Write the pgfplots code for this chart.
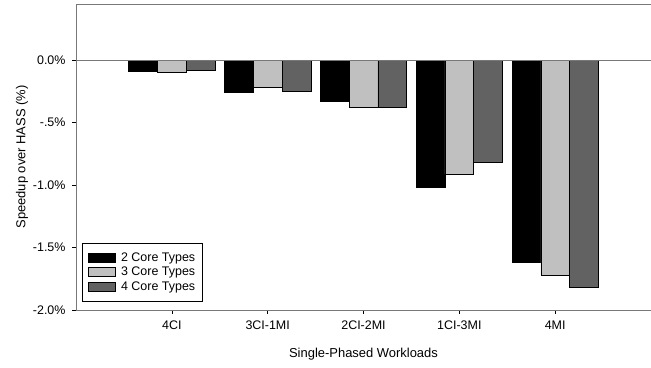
\documentclass[border=0pt]{standalone}
\usepackage{pgfplots}
\pgfplotsset{compat=1.18}
\usepackage{fontspec}
\setmainfont{Liberation Sans}
\definecolor{lgray}{RGB}{192,192,192}
\definecolor{dgray}{RGB}{98,98,98}
\definecolor{axgray}{RGB}{120,120,120}
\begin{document}
\begin{tikzpicture}
\begin{axis}[
  scale only axis,
  width=575bp, height=306bp,
  xmin=-1, xmax=5,
  ymin=-2.0, ymax=0.45,
  axis x line*=bottom,
  axis y line*=left,
  axis line style={axgray, line width=0.8pt},
  tick style={black, line width=0.6pt},
  tick align=outside,
  major tick length=4bp,
  xtick={0,1,2,3,4},
  xticklabels={4CI,3CI-1MI,2CI-2MI,1CI-3MI,4MI},
  ytick={-2,-1.5,-1,-0.5,0},
  yticklabels={-2.0\%,-1.5\%,-1.0\%,-.5\%,0.0\%},
  /pgf/number format/assume math mode=true,
  ticklabel style={font=\fontsize{12.5}{14}\selectfont},
  yticklabel style={xshift=-3bp},
  xticklabel style={yshift=-3bp},
  label style={font=\fontsize{13}{15}\selectfont},
  xlabel={Single-Phased Workloads},
  ylabel={Speedup over HASS (\%)},
  xlabel style={yshift=-12bp},
  ylabel style={yshift=-2bp},
  ybar, bar width=0.3,
  legend cell align=left,
  legend style={at={(rel axis cs:0.011,0.029)}, anchor=south west, draw=black, line width=0.6pt,
    font=\fontsize{12.5}{14}\selectfont, row sep=0.5pt, inner xsep=5pt, inner ysep=7pt},
  legend image code/.code={\draw[#1] (0bp,-4.5bp) rectangle (27bp,4.5bp); \path (31bp,0bp);},
]
\addplot[fill=black, draw=black, line width=0.5pt, bar shift=-0.3] coordinates {(0,-0.085) (1,-0.253) (2,-0.325) (3,-1.021) (4,-1.621)};
\addplot[fill=lgray, draw=black, line width=0.5pt, bar shift=0] coordinates {(0,-0.100) (1,-0.219) (2,-0.379) (3,-0.912) (4,-1.720)};
\addplot[fill=dgray, draw=black, line width=0.5pt, bar shift=0.3] coordinates {(0,-0.083) (1,-0.250) (2,-0.379) (3,-0.819) (4,-1.819)};
\legend{2 Core Types,3 Core Types,4 Core Types}
\addplot[sharp plot, axgray, line width=0.8pt, forget plot] coordinates {(-1,0) (5,0)};
\end{axis}
\draw[axgray, line width=0.8pt] (current axis.north west) -- (current axis.north east);
\pgfresetboundingbox
\path ([shift={(-76bp,-57bp)}]current axis.south west) rectangle ([shift={(0bp,4bp)}]current axis.north east);
\end{tikzpicture}
\end{document}
